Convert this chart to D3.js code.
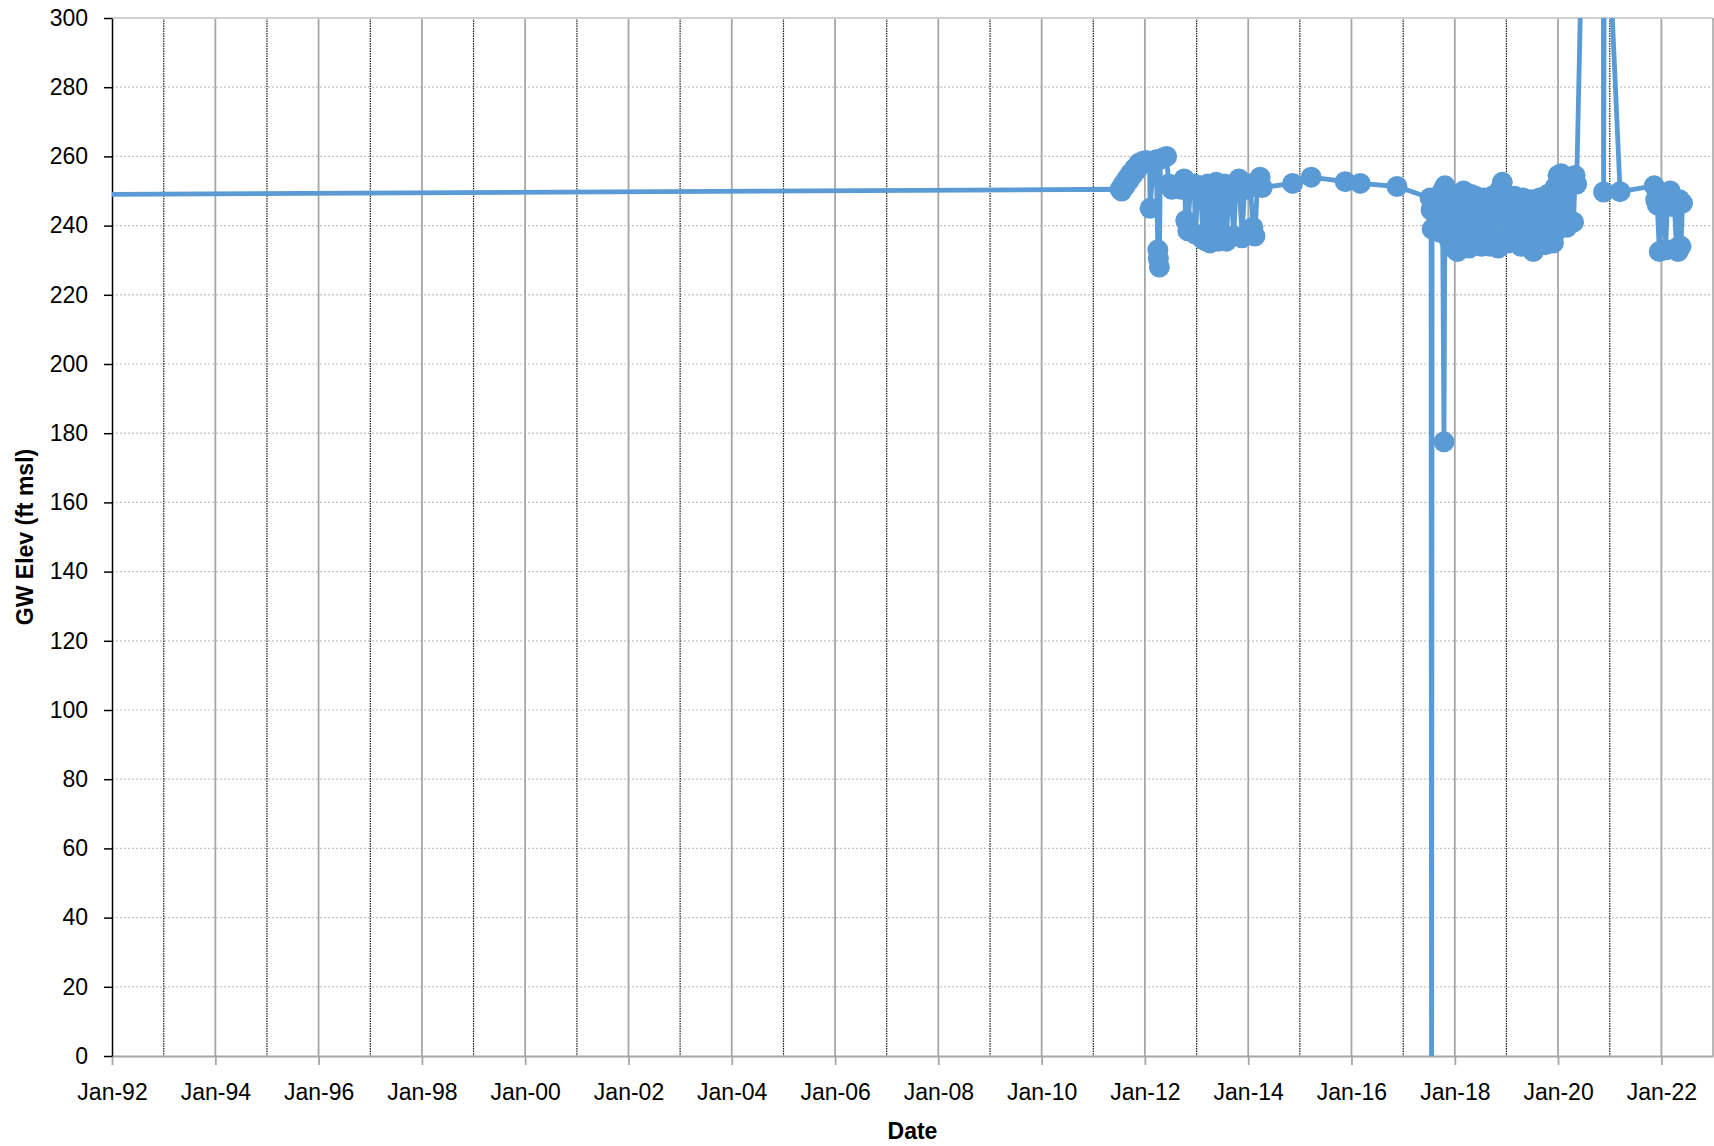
<!DOCTYPE html>
<html><head><meta charset="utf-8">
<script src="https://cdn.jsdelivr.net/npm/d3@7"></script>
<style>
body{margin:0;background:#fff}
svg{display:block}
text{font-family:"Liberation Sans",Arial,sans-serif}
</style>
</head><body>
<svg id="chart" width="1714" height="1146"></svg>
<script>
// Sample dates as decimal years
const dates = [
  1989.00,
  2011.52, 2011.55, 2011.58, 2011.62, 2011.65, 2011.69, 2011.72, 2011.76, 2011.80, 2011.84, 2011.88, 2011.92,
  2011.95, 2012.02, 2012.09, 2012.10, 2012.17, 2012.22,
  2012.25, 2012.26, 2012.28, 2012.30, 2012.36, 2012.42,
  2012.46, 2012.52, 2012.60, 2012.70, 2012.76, 2012.79, 2012.83, 2012.88, 2012.95, 2012.98, 2013.02, 2013.08,
  2013.12, 2013.15, 2013.18, 2013.22, 2013.26, 2013.30, 2013.34, 2013.38, 2013.42, 2013.46, 2013.50, 2013.54,
  2013.58, 2013.62, 2013.66, 2013.72, 2013.76, 2013.82, 2013.88, 2013.93, 2013.98, 2014.04, 2014.09, 2014.13,
  2014.18, 2014.23, 2014.27,
  2014.86, 2015.22, 2015.88, 2016.17, 2016.88,
  2017.52, 2017.54, 2017.55, 2017.56, 2017.60, 2017.64, 2017.68, 2017.72, 2017.76, 2017.79, 2017.81, 2017.85,
  2017.89, 2017.93, 2017.97, 2018.01, 2018.05, 2018.09, 2018.13, 2018.17, 2018.21, 2018.24, 2018.28, 2018.32,
  2018.36, 2018.40, 2018.44, 2018.48, 2018.52, 2018.56, 2018.60, 2018.64, 2018.68, 2018.72, 2018.76, 2018.80,
  2018.84, 2018.88, 2018.92, 2018.96, 2019.00, 2019.04, 2019.08, 2019.12, 2019.16, 2019.20, 2019.24, 2019.28,
  2019.32, 2019.36, 2019.40, 2019.44, 2019.48, 2019.52, 2019.56, 2019.60, 2019.64, 2019.68, 2019.72, 2019.76,
  2019.80, 2019.84, 2019.88, 2019.91, 2019.94, 2019.97, 2020.00, 2020.03, 2020.06, 2020.10, 2020.13, 2020.17,
  2020.20, 2020.24, 2020.27, 2020.30, 2020.33, 2020.36,
  2020.86, 2020.88, 2020.90, 2021.20,
  2021.86, 2021.89, 2021.92, 2021.96, 2022.00, 2022.04, 2022.08, 2022.12, 2022.17, 2022.21, 2022.25, 2022.29,
  2022.32, 2022.35, 2022.38, 2022.41
];
// GW elevation, ft msl
const elev = [
  248.8,
  250.5, 250.0, 252.0, 251.5, 253.5, 253.0, 255.0, 254.5, 256.5, 256.0, 258.0, 257.5,
  258.5, 258.8, 258.3, 245.0, 258.7, 259.0,
  233.0, 230.5, 228.0, 259.2, 259.6, 260.0,
  252.0, 250.5, 251.5, 250.5, 253.5, 241.5, 238.5, 251.0, 252.0, 237.5, 250.0, 251.5,
  236.0, 251.0, 235.5, 252.0, 235.0, 251.0, 236.0, 252.5, 235.5, 251.5, 236.0, 252.0,
  235.5, 250.5, 251.5, 237.0, 250.0, 253.5, 236.5, 251.0, 250.5, 252.0, 239.5, 237.0,
  252.5, 254.0, 251.0,
  252.2, 254.0, 252.7, 252.2, 251.3,
  248.0, 244.5, -40, 239.0, 245.0, 241.0, 247.0, 238.0, 250.0, 177.5, 251.5, 246.0,
  236.0, 249.0, 233.5, 246.5, 232.5, 248.0, 234.0, 250.0, 238.5, 247.0, 233.5, 249.0,
  234.5, 248.5, 236.0, 247.0, 234.0, 248.0, 235.5, 246.5, 234.0, 248.5, 235.0, 249.0,
  233.5, 250.5, 252.5, 237.0, 248.0, 235.0, 247.5, 239.0, 248.5, 236.5, 247.0, 234.0,
  248.0, 237.5, 246.5, 234.5, 247.5, 232.5, 245.5, 234.0, 248.0, 236.0, 247.0, 234.5,
  249.0, 237.0, 248.0, 235.0, 251.0, 238.5, 254.5, 240.0, 255.0, 242.0, 253.5, 239.5,
  254.0, 241.5, 253.0, 241.0, 254.5, 252.0,
  600, 249.7, 350, 249.8,
  251.5, 247.5, 246.0, 232.5, 246.5, 248.0, 233.0, 247.0, 250.0, 245.5, 247.0, 233.5,
  232.5, 247.5, 234.0, 246.5
];
const yTickValues = [0,20,40,60,80,100,120,140,160,180,200,220,240,260,280,300];
const xStartYear = 1992, xEndYear = 2023;
const xTitle = "Date";
const yTitle = "GW Elev (ft msl)";

function toDate(y){
  const yr = Math.floor(y);
  const s = Date.UTC(yr,0,1), e = Date.UTC(yr+1,0,1);
  return new Date(s + (y-yr)*(e-s));
}
const data = dates.map((d,i)=>({date:toDate(d), v:elev[i]}));

const L=112, R=1713, T=18, B=1056;
const svg = d3.select("#chart");
const x = d3.scaleUtc().domain([new Date(Date.UTC(xStartYear,0,1)), new Date(Date.UTC(xEndYear,0,1))]).range([L,R]);
const y = d3.scaleLinear().domain([0,300]).range([B,T]);

const years = d3.utcYear.range(new Date(Date.UTC(xStartYear,0,1)), new Date(Date.UTC(xEndYear,0,2)));
const majorYears = years.filter(d => (d.getUTCFullYear()-xStartYear)%2===0);
const minorYears = years.filter(d => (d.getUTCFullYear()-xStartYear)%2===1);

// horizontal gridlines
svg.append("g").selectAll("line").data(yTickValues.filter(v=>v>0 && v<300)).join("line")
  .attr("x1",L).attr("x2",R).attr("y1",d=>y(d)).attr("y2",d=>y(d))
  .attr("stroke","#c4c4c4").attr("stroke-width",1.2).attr("stroke-dasharray","2,2");
// minor vertical gridlines (dotted)
svg.append("g").selectAll("line").data(minorYears).join("line")
  .attr("x1",d=>x(d)).attr("x2",d=>x(d)).attr("y1",T).attr("y2",B)
  .attr("stroke","#1a1a1a").attr("stroke-width",1.2).attr("stroke-dasharray","1.5,1");
// major vertical gridlines (solid)
svg.append("g").selectAll("line").data(majorYears.filter(d=>d.getUTCFullYear()>xStartYear)).join("line")
  .attr("x1",d=>x(d)).attr("x2",d=>x(d)).attr("y1",T).attr("y2",B)
  .attr("stroke","#a6a6a6").attr("stroke-width",1.8);
// plot border top/right
svg.append("line").attr("x1",L).attr("x2",R).attr("y1",T).attr("y2",T).attr("stroke","#d0d0d0").attr("stroke-width",2);
svg.append("line").attr("x1",R).attr("x2",R).attr("y1",T).attr("y2",B).attr("stroke","#b8b8b8").attr("stroke-width",2);

// x axis
const xAxis = svg.append("g").attr("transform",`translate(0,${B})`)
  .call(d3.axisBottom(x).tickValues(majorYears).tickFormat(d3.utcFormat("%b-%y")).tickSize(9).tickPadding(19).tickSizeOuter(0));
xAxis.select(".domain").attr("stroke","#a6a6a6").attr("stroke-width",2);
xAxis.selectAll(".tick line").attr("stroke","#a6a6a6").attr("stroke-width",1.8);
xAxis.selectAll("text").attr("font-size",23).attr("fill","#000").attr("font-family","Liberation Sans, Arial, sans-serif");

// y axis
const yAxis = svg.append("g").attr("transform",`translate(${L},0)`)
  .call(d3.axisLeft(y).tickValues(yTickValues).tickSize(8).tickPadding(16).tickSizeOuter(0));
yAxis.select(".domain").attr("stroke","#000").attr("stroke-width",1.5);
yAxis.selectAll(".tick line").attr("stroke","#000").attr("stroke-width",1.5);
yAxis.selectAll("text").attr("font-size",23).attr("fill","#000").attr("font-family","Liberation Sans, Arial, sans-serif");

// clip
svg.append("defs").append("clipPath").attr("id","plotclip")
  .append("rect").attr("x",L).attr("y",T).attr("width",R-L).attr("height",B-T);

const plot = svg.append("g").attr("clip-path","url(#plotclip)");
plot.append("path").datum(data)
  .attr("d", d3.line().x(d=>x(d.date)).y(d=>y(d.v)))
  .attr("fill","none").attr("stroke","#5B9BD5").attr("stroke-width",4.8).attr("stroke-linejoin","round");
plot.append("g").selectAll("circle").data(data.slice(1)).join("circle")
  .attr("cx",d=>x(d.date)).attr("cy",d=>y(d.v)).attr("r",10.5).attr("fill","#5B9BD5");

// titles
svg.append("text").attr("x",(L+R)/2).attr("y",1139).attr("text-anchor","middle")
  .attr("font-size",23).attr("font-weight","bold").text(xTitle);
svg.append("text").attr("transform",`translate(33,${(T+B)/2}) rotate(-90)`).attr("text-anchor","middle")
  .attr("font-size",23).attr("font-weight","bold").text(yTitle);
</script>
</body></html>
